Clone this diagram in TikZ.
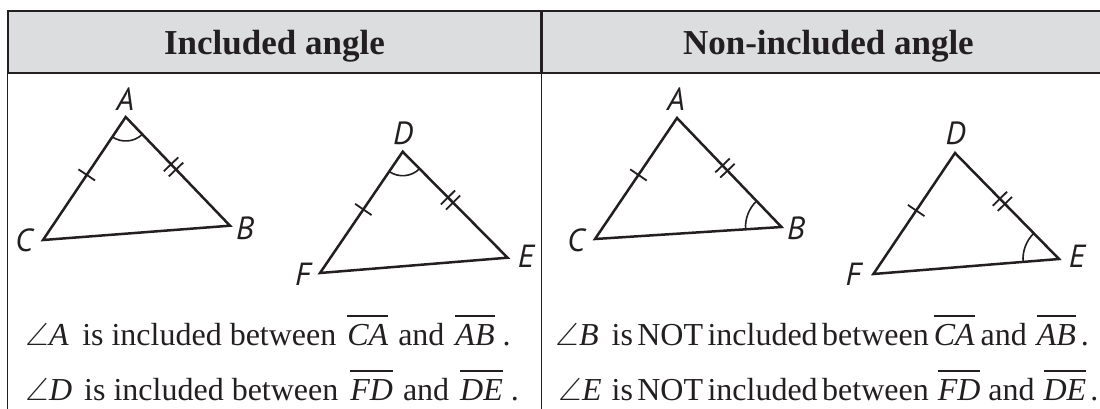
\documentclass[tikz,border=0pt]{standalone}
\usepackage{amsmath,amssymb}
\usepackage{fontspec}
\setmainfont{Liberation Serif}
\newfontfamily\vertexfont{PT Sans}
\usetikzlibrary{positioning,calc,angles,decorations.markings}
\definecolor{ink}{RGB}{35,31,32}
\definecolor{headgray}{RGB}{220,221,223}
\newcommand{\seg}[1]{\setbox0\hbox{\itshape #1}\rlap{\raisebox{\dimexpr\ht0+3.6pt\relax}{\rule{\wd0}{1pt}}}\box0}
\newcommand{\ang}[1]{$\angle$\kern0.3pt{\itshape #1}}

\begin{document}
\begin{tikzpicture}[
    x=0.5pt, y=-0.5pt,
    color=ink,
    head_cell/.style={draw=ink, line width=0.7pt, fill=headgray, minimum height=31pt, inner sep=0pt,
        text height=14pt, text depth=2pt, font=\fontsize{17.5}{20}\selectfont\bfseries},
    rule_line/.style={draw=ink, line width=0.7pt},
    side_line/.style={draw=ink, line width=1.25pt, line join=miter},
    vertex_label/.style={inner sep=0pt, font=\vertexfont\itshape\fontsize{16}{18}\selectfont},
    row_text/.style={anchor=base west, inner sep=0pt, font=\fontsize{16}{19}\selectfont},
    one_tick/.style={postaction={decorate}, decoration={markings,
        mark=at position #1 with {\draw[line width=0.9pt] (0pt,-5pt) -- (0pt,5pt);}}},
    two_ticks/.style={postaction={decorate}, decoration={markings,
        mark=at position #1 with {\draw[line width=0.9pt] (-1.8pt,-5pt) -- (-1.8pt,5pt) (1.8pt,-5pt) -- (1.8pt,5pt);}}},
    angle_mark/.style={draw=ink, line width=0.8pt}
]
\useasboundingbox (0,0) rectangle (1100,408);
\clip (0,0) rectangle (1100,408);

\node[head_cell, minimum width=266.5pt] (head_inc) at (274.5,42) {Included angle};
\node[head_cell, minimum width=286pt, anchor=west] (head_non) at (head_inc.east) {Non-included angle};
\draw[rule_line] (head_inc.south west) -- ++(0,340);
\draw[rule_line] (head_inc.south east) -- ++(0,340);

% included angle
\coordinate (A1) at (125.7,117);
\coordinate (B1) at (230,225.7);
\coordinate (C1) at (43,240);
\coordinate (D1) at (402.7,151.7);
\coordinate (E1) at (507.6,257.7);
\coordinate (F1) at (320,273);
\draw[side_line] (A1) -- (B1) -- (C1) -- cycle;
\draw[side_line] (D1) -- (E1) -- (F1) -- cycle;
\path[one_tick=0.53] (C1) -- (A1);
\path[two_ticks=0.46] (A1) -- (B1);
\path[one_tick=0.525] (F1) -- (D1);
\path[two_ticks=0.456] (D1) -- (E1);
\pic[angle_mark, angle radius=12pt] {angle = C1--A1--B1};
\pic[angle_mark, angle radius=12pt] {angle = F1--D1--E1};
\node[vertex_label] (lA1) at (125.3,99.5) {A};
\node[vertex_label] (lB1) at (245,228.5) {B};
\node[vertex_label] (lC1) at (24,240) {C};
\node[vertex_label] (lD1) at (403,133) {D};
\node[vertex_label] (lE1) at (526,256) {E};
\node[vertex_label] (lF1) at (303,274) {F};

% non-included angle
\coordinate (A2) at (677,118);
\coordinate (B2) at (781.5,227);
\coordinate (C2) at (595,239);
\coordinate (D2) at (955,153);
\coordinate (E2) at (1059,259);
\coordinate (F2) at (873.4,274);
\draw[side_line] (A2) -- (B2) -- (C2) -- cycle;
\draw[side_line] (D2) -- (E2) -- (F2) -- cycle;
\path[one_tick=0.53] (C2) -- (A2);
\path[two_ticks=0.46] (A2) -- (B2);
\path[one_tick=0.525] (F2) -- (D2);
\path[two_ticks=0.456] (D2) -- (E2);
\pic[angle_mark, angle radius=18pt] {angle = A2--B2--C2};
\pic[angle_mark, angle radius=18pt] {angle = D2--E2--F2};
\node[vertex_label] (lA2) at (676,99.5) {A};
\node[vertex_label] (lB2) at (796,228) {B};
\node[vertex_label] (lC2) at (576,240) {C};
\node[vertex_label] (lD2) at (955.6,133.5) {D};
\node[vertex_label] (lE2) at (1077,256) {E};
\node[vertex_label] (lF2) at (853.6,274) {F};

\node[row_text] (inc_one) at (25,345) {\ang{A}\hspace{6.8pt}is included between\hspace{5.5pt}\seg{CA}\hspace{5pt}and\hspace{5.5pt}\seg{AB}\hspace{4pt}.};
\node[row_text] (inc_two) at (25,400) {\ang{D}\hspace{6pt}is included between\hspace{6pt}\seg{FD}\hspace{5pt}and\hspace{5.5pt}\seg{DE}\hspace{4pt}.};
\node[row_text] (non_one) at (555,345) {\ang{B}\hspace{6.5pt}{\spaceskip=2.2pt\relax is NOT included between}\hspace{2.5pt}\seg{CA}\hspace{3pt}and\hspace{5pt}\seg{AB}\hspace{2.5pt}.};
\node[row_text] (non_two) at (558,400) {\ang{E}\hspace{5pt}{\spaceskip=2.2pt\relax is NOT included between}\hspace{4.5pt}\seg{FD}\hspace{4pt}and\hspace{4.5pt}\seg{DE}\hspace{2pt}.};

\end{tikzpicture}
\end{document}
